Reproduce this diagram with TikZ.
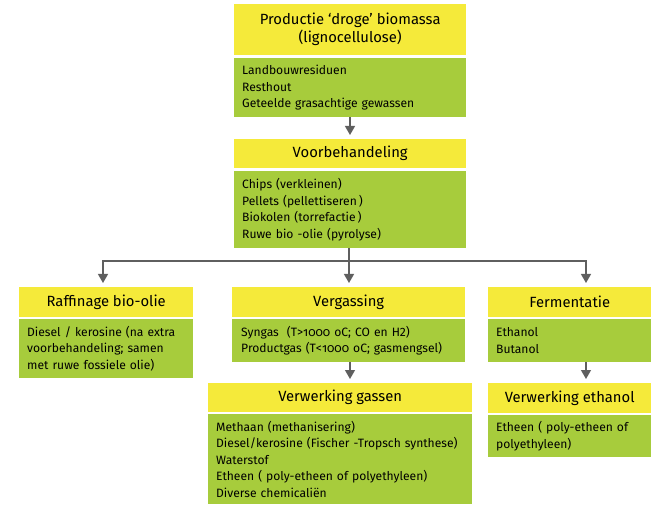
\documentclass[tikz,border=0pt]{standalone}
\usepackage{fontspec}
\setmainfont{Fira Sans}
\usetikzlibrary{arrows.meta}
\definecolor{ygl}{RGB}{245,234,58}
\definecolor{grn}{RGB}{167,204,60}
\definecolor{arrc}{RGB}{95,95,95}
\newcommand{\osn}[1]{{\addfontfeatures{Numbers=OldStyle}#1}}
\begin{document}
\begin{tikzpicture}[x=1pt,y=-1pt,
  titlebox/.style={fill=ygl, anchor=north west, inner sep=0pt, align=center,
    font=\fontsize{14.8}{18}\selectfont},
  bodybox/.style={fill=grn, anchor=north west, inner xsep=8pt, inner ysep=0pt, align=left,
    font=\fontsize{12.1}{16.5}\selectfont},
  link/.style={draw=arrc, line width=1.3pt, -{Triangle[width=10pt,length=9pt]}, shorten >=4pt},
  plainlink/.style={draw=arrc, line width=1.3pt}]
\useasboundingbox (0,0) rectangle (651,505);

\node[titlebox, minimum width=232pt, minimum height=51pt] (t1) at (234,4)
  {Productie ‘droge’ biomassa\\(lignocellulose)};
\node[bodybox, text width=216pt, minimum height=59pt] (b1) at (234,58)
  {Landbouwresiduen\\Resthout\\Geteelde grasachtige gewassen};
\node[titlebox, minimum width=232pt, minimum height=29pt] (t2) at (234,139) {Voorbehandeling};
\node[bodybox, text width=216pt, minimum height=77pt] (b2) at (234,171)
  {Chips (verkleinen)\\Pellets (pellettiseren\,)\\Biokolen (torrefactie\,)\\Ruwe bio -olie (pyrolyse)};

\node[titlebox, minimum width=174pt, minimum height=30pt] (t3) at (19,287) {Raffinage bio-olie};
\node[bodybox, text width=158pt, minimum height=59pt] (b3) at (19,319)
  {Diesel / kerosine (na extra\\voorbehandeling; samen\\met ruwe fossiele olie)};

\node[titlebox, minimum width=233pt, minimum height=30pt] (t4) at (232,287) {Vergassing};
\node[bodybox, inner xsep=9pt, text width=215pt, minimum height=43pt] (b4) at (232,319)
  {Syngas\ \ (T>\osn{1000} oC; CO en H2)\\Productgas (T<\osn{1000} oC; gasmengsel)};

\node[titlebox, minimum width=163pt, minimum height=30pt] (t5) at (488,287) {Fermentatie};
\node[bodybox, text width=147pt, minimum height=43pt] (b5) at (488,319)
  {Ethanol\\Butanol};

\node[titlebox, minimum width=264pt, minimum height=29pt] (t6) at (208,383) {Verwerking gassen};
\node[bodybox, text width=248pt, minimum height=90pt] (b6) at (208,414)
  {Methaan (methanisering)\\Diesel/kerosine (Fischer -Tropsch synthese)\\Waterstof\\Etheen ( poly-etheen of polyethyleen)\\Diverse chemicaliën};

\node[titlebox, minimum width=163pt, minimum height=30pt] (t7) at (488,383) {Verwerking ethanol};
\node[bodybox, text width=147pt, minimum height=42pt] (b7) at (488,415)
  {Etheen ( poly-etheen of\\polyethyleen)};

\coordinate (jn) at (349,261);
\coordinate (xl) at (103,0);
\coordinate (xr) at (586,0);
\coordinate (xm) at (350,0);

\draw[link] (xm |- b1.south) -- (xm |- t2.north);
\draw[plainlink] (jn |- b2.south) -- (jn);
\draw[link] (jn) -- (jn |- t4.north);
\draw[link] (jn) -| (xl |- t3.north);
\draw[link] (jn) -| (xr |- t5.north);
\draw[link] (xm |- b4.south) -- (xm |- t6.north);
\draw[link] (xr |- b5.south) -- (xr |- t7.north);
\end{tikzpicture}
\end{document}
